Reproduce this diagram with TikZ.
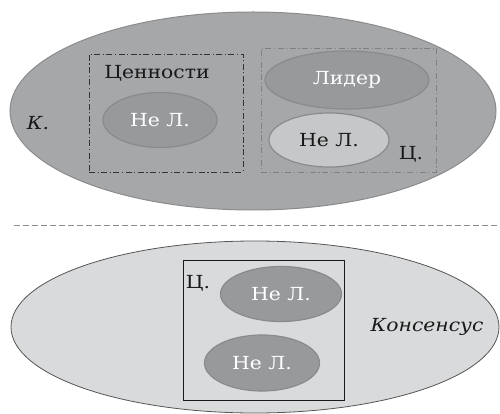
\documentclass[tikz,border=0pt]{standalone}
\usepackage{fontspec}
\setmainfont{DejaVu Serif}
\newfontfamily\rufont{DejaVu Serif}
\usetikzlibrary{shapes.geometric}
\definecolor{bigfill}{HTML}{A6A7A9}
\definecolor{bigline}{HTML}{8A8B8D}
\definecolor{midfill}{HTML}{98999B}
\definecolor{midline}{HTML}{8A8A8C}
\definecolor{lightfill}{HTML}{C6C7C9}
\definecolor{lowfill}{HTML}{D9DADB}
\definecolor{lowline}{HTML}{555555}
\newcommand{\widetxt}[1]{\scalebox{1.13}[1]{#1}}
\tikzset{
  oval/.style={ellipse, inner sep=0pt, draw=midline, line width=1.2pt, fill=midfill, text=white},
  dashdot/.style={line width=0.9pt, dash pattern=on 6pt off 2.5pt on 1.2pt off 2.5pt},
  lbl/.style={inner sep=0pt, text=black!90},
}
\begin{document}
\begin{tikzpicture}[x=1pt,y=-1pt,font=\rufont\fontsize{18}{21}\selectfont]
\useasboundingbox (0,0) rectangle (500,414);
% top
\node[ellipse, inner sep=0pt, minimum width=486, minimum height=198, draw=bigline, line width=1pt, fill=bigfill] (top) at (253,111) {};
\node[draw=black!80, dashdot, minimum width=154, minimum height=118, inner sep=0pt] (vbox) at (166,113) {};
\node[draw=black!50, dashdot, minimum width=175, minimum height=124, inner sep=0pt] (cbox) at (348.5,110) {};
\node[lbl] (val) at (157,73) {\widetxt{Ценности}};
\node[oval, minimum width=114, minimum height=55] (nl1) at (160,120) {\widetxt{Не Л.}};
\node[oval, minimum width=164, minimum height=58] (lid) at (347,80) {\widetxt{Лидер}};
\node[ellipse, inner sep=0pt, minimum width=120, minimum height=54, draw=midline, line width=1.2pt, fill=lightfill, text=black!90] (nl2) at (329,140) {\widetxt{Не Л.}};
\node[lbl] (c1) at (411,154) {\widetxt{Ц.}};
\node[lbl] (k) at (38,123) {\widetxt{\itshape К.}};
% divider
\coordinate (dl) at (14,225);
\coordinate (dr) at (500,225);
\draw[black!45, line width=1pt, dash pattern=on 6pt off 3pt] (dl) -- (dr);
% bottom
\node[ellipse, inner sep=0pt, minimum width=488, minimum height=172, draw=lowline, line width=0.8pt, fill=lowfill] (bot) at (255,327) {};
\node[draw=black!90, line width=0.9pt, minimum width=161, minimum height=140, inner sep=0pt] (cbox2) at (263.5,330) {};
\node[lbl] (c2) at (198,283) {\widetxt{Ц.}};
\node[oval, minimum width=121, minimum height=55] (nl3) at (281,294) {\widetxt{Не Л.}};
\node[oval, minimum width=115, minimum height=56] (nl4) at (262,363) {\widetxt{Не Л.}};
\node[lbl] (kons) at (427,327) {\widetxt{\itshape Консенсус}};
\end{tikzpicture}
\end{document}
